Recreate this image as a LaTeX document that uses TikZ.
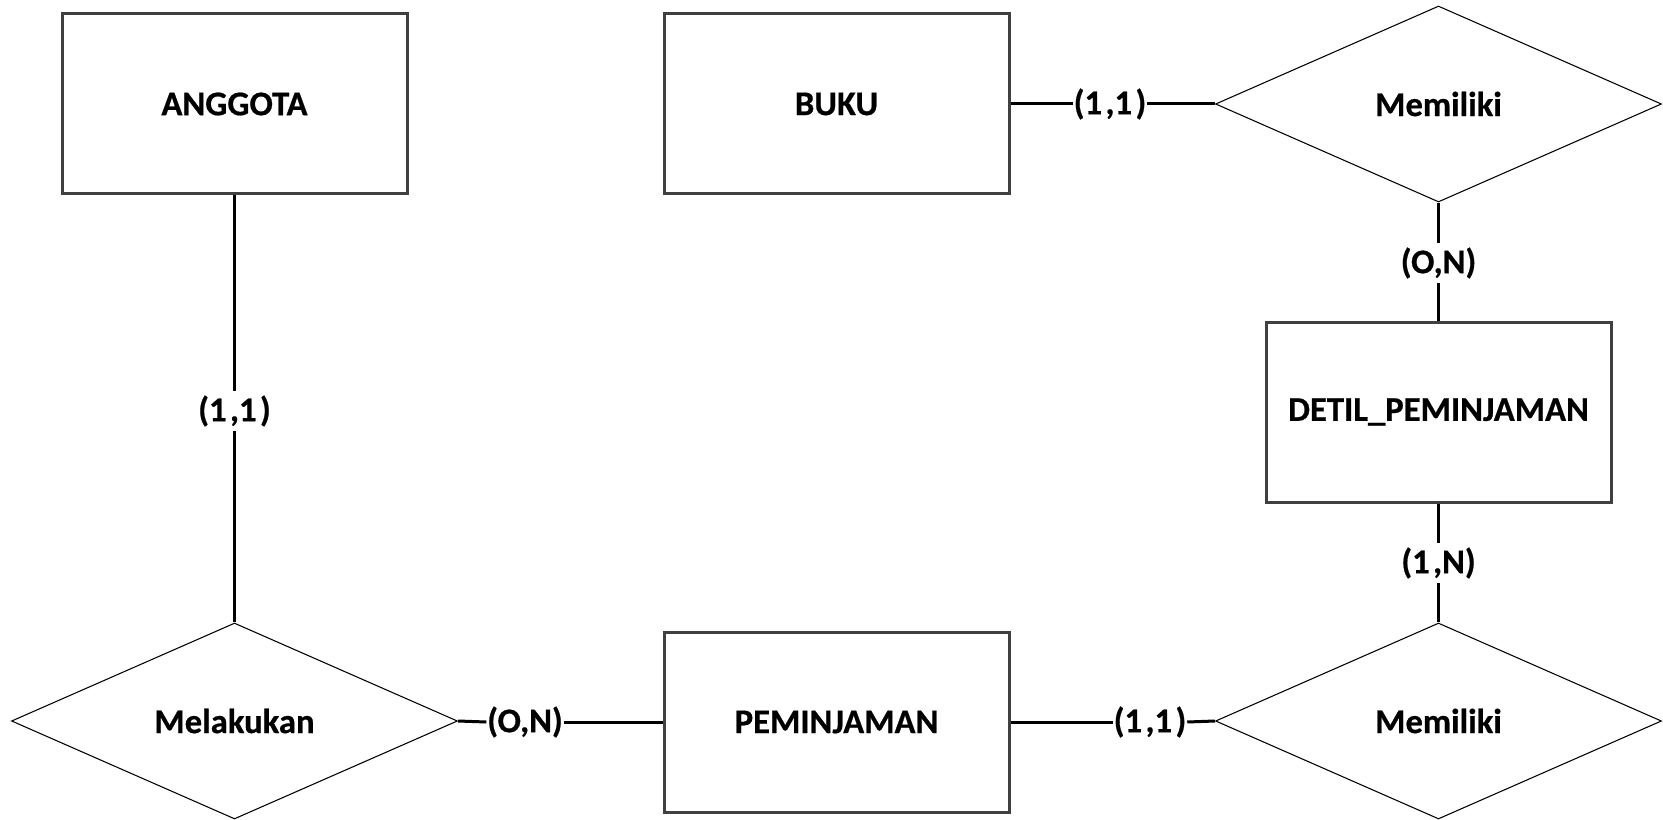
\documentclass[tikz,border=0pt]{standalone}
\usepackage{fontspec}
\setmainfont{Carlito}[BoldFeatures={FakeBold=0.6}]
\usetikzlibrary{shapes.geometric}
\definecolor{boxgray}{HTML}{404040}
\begin{document}
\begin{tikzpicture}[x=0.75pt,y=-0.75pt,
  txt/.style={font=\fontsize{26}{30}\selectfont\bfseries},
  entity/.style={txt,draw=boxgray,line width=2.25pt,rectangle,minimum width=258.75pt,minimum height=135pt,inner sep=0pt},
  relation/.style={txt,draw=black,line width=0.8pt,diamond,minimum width=334.5pt,minimum height=147pt,inner sep=0pt},
  card/.style={txt,inner xsep=0.5pt,inner ysep=0pt},
  vcard/.style={txt,inner xsep=1pt,inner ysep=3pt},
  conn/.style={draw=black,line width=2.25pt}]
\useasboundingbox (0,0) rectangle (1663,820);
\node[entity] (anggota) at (234.5,104) {ANGGOTA};
\node[entity] (buku) at (836.5,104) {BUKU};
\node[entity] (detil) at (1438.5,412) {DETIL\_PEMINJAMAN};
\node[entity] (peminjaman) at (836.5,722) {PEMINJAMAN};
\node[relation] (memiliki1) at (1438.5,104) {Memiliki};
\node[relation] (memiliki2) at (1438.5,721) {Memiliki};
\node[relation] (melakukan) at (234.5,721) {Melakukan};
\node[card] (c1) at (1110,104) {(1\kern0.1em,1\kern0.1em)};
\node[vcard] (c2) at (1438.5,263) {(O,N)};
\node[vcard] (c3) at (1438.5,563) {(1\kern0.1em,N)};
\node[card] (c4) at (1150,722) {(1\kern0.1em,1\kern0.1em)};
\node[card] (c5) at (525,722) {(O,N)};
\node[vcard] (c6) at (234.5,411) {(1\kern0.1em,1\kern0.1em)};
\draw[conn] (buku.east) -- (c1.west);
\draw[conn] (c1.east) -- (memiliki1.west);
\draw[conn] (memiliki1.south) -- (c2.north);
\draw[conn] (c2.south) -- (detil.north);
\draw[conn] (detil.south) -- (c3.north);
\draw[conn] (c3.south) -- (memiliki2.north);
\draw[conn] (peminjaman.east) -- (c4.west);
\draw[conn] (c4.east) -- (memiliki2.west);
\draw[conn] (melakukan.east) -- (c5.west);
\draw[conn] (c5.east) -- (peminjaman.west);
\draw[conn] (anggota.south) -- (c6.north);
\draw[conn] (c6.south) -- (melakukan.north);
\end{tikzpicture}
\end{document}
